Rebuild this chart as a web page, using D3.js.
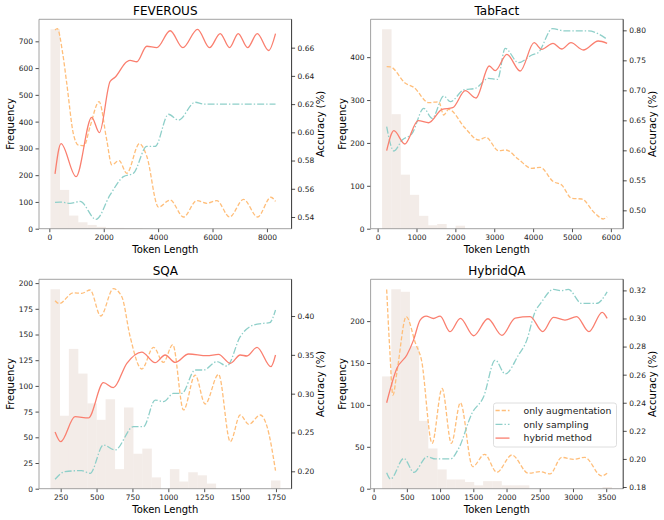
<!DOCTYPE html>
<html>
<head>
<meta charset="utf-8">
<script src="https://cdn.jsdelivr.net/npm/d3@7"></script>
<style>
	body { margin: 0; background: #fff; }
	svg { display: block; font-family: 'DejaVu Sans', sans-serif; }
</style>
</head>
<body>
<svg id="chart" width="664" height="520"></svg>
<script>

// Histogram counts (25 bins per dataset) and the token range the bins cover
var feverousCounts = [745, 145, 49, 24, 14, 7, 3, 3, 2, 2, 0, 0, 0, 0, 0, 0, 0, 0, 0, 0, 0, 0, 0, 0, 1];
var tabfactCounts = [465, 267, 126, 79, 30, 8, 11, 0, 7, 0, 0, 0, 0, 0, 0, 0, 0, 0, 0, 0, 0, 0, 0, 0, 1];
var sqaCounts = [194, 71, 136, 112, 83, 67, 87, 19, 79, 34, 39, 11, 0, 19, 7, 16, 13, 5, 0, 0, 0, 0, 0, 0, 8];
var hybridqaCounts = [134, 238, 235, 170, 81, 48, 23, 11, 11, 8, 4, 9, 9, 4, 4, 4, 0, 0, 0, 0, 0, 0, 0, 0, 2];

var feverousRange = [42, 8485];
var tabfactRange = [115, 6022];
var sqaRange = [179, 1779];
var hybridqaRange = [127, 3583];

// Accuracy curves: [token length, accuracy]
var feverousAug = [[209, 0.6725], [290, 0.6735], [491, 0.656], [638, 0.635], [883, 0.599], [1067, 0.591], [1276, 0.5905], [1497, 0.604], [1828, 0.6217], [2110, 0.5946], [2295, 0.577], [2564, 0.580], [2847, 0.571], [3313, 0.592], [3583, 0.583], [4012, 0.547], [4442, 0.552], [4933, 0.540], [5423, 0.5516], [5791, 0.5497], [6159, 0.5516], [6626, 0.540], [7141, 0.5525], [7657, 0.540], [8148, 0.554], [8316, 0.551]];
var feverousSamp = [[209, 0.5504], [390, 0.5506], [761, 0.5497], [1129, 0.551], [1718, 0.5383], [2233, 0.5556], [2724, 0.5686], [3092, 0.571], [3583, 0.590], [3890, 0.590], [4381, 0.6128], [4749, 0.6087], [5362, 0.6213], [5669, 0.620], [8316, 0.620]];
var feverousHybrid = [[209, 0.5705], [430, 0.592], [982, 0.5686], [1558, 0.6106], [1841, 0.5998], [2233, 0.636], [2417, 0.639], [2847, 0.650], [2970, 0.651], [3215, 0.650], [3583, 0.661], [3950, 0.660], [4442, 0.672], [4908, 0.660], [5448, 0.673], [5890, 0.660], [6282, 0.670], [6626, 0.660], [6945, 0.670], [7289, 0.660], [7645, 0.670], [8062, 0.658], [8316, 0.670]];

var tabfactAug = [[233, 0.7394], [330, 0.739], [718, 0.7117], [932, 0.705], [1316, 0.6794], [1573, 0.681], [1701, 0.6589], [1829, 0.6683], [2256, 0.6367], [2598, 0.6172], [2786, 0.6217], [3111, 0.5994], [3299, 0.6006], [3624, 0.585], [3966, 0.57], [4180, 0.5717], [4521, 0.5478], [4735, 0.5422], [4991, 0.52], [5248, 0.5189], [5590, 0.495], [5803, 0.4856], [5904, 0.4894]];
var tabfactSamp = [[233, 0.6394], [419, 0.5989], [632, 0.6172], [889, 0.6283], [1188, 0.67], [1402, 0.6533], [1701, 0.6906], [1872, 0.6811], [2214, 0.7006], [2513, 0.7033], [2855, 0.72], [3085, 0.7183], [3282, 0.77], [3624, 0.7461], [3966, 0.7589], [4137, 0.7633], [4496, 0.8028], [4820, 0.799], [5419, 0.799], [5904, 0.785]];
var tabfactHybrid = [[233, 0.5994], [419, 0.6328], [701, 0.6106], [1043, 0.6494], [1316, 0.646], [1658, 0.6683], [1932, 0.671], [2256, 0.6994], [2530, 0.6872], [2872, 0.7406], [3026, 0.7328], [3325, 0.76], [3667, 0.7322], [4026, 0.7794], [4222, 0.7683], [4513, 0.7783], [4735, 0.7689], [4974, 0.7794], [5291, 0.7672], [5675, 0.7822], [5904, 0.7783]];

var sqaAug = [[211, 0.4197], [240, 0.416], [338, 0.43], [397, 0.4292], [455, 0.4335], [529, 0.40], [617, 0.4352], [676, 0.4249], [734, 0.3734], [815, 0.3318], [897, 0.3597], [966, 0.3403], [1031, 0.3631], [1106, 0.279], [1187, 0.324], [1257, 0.2867], [1350, 0.3249], [1432, 0.2382], [1501, 0.2725], [1560, 0.2605], [1641, 0.2725], [1688, 0.2575], [1747, 0.2009]];
var sqaSamp = [[211, 0.1897], [280, 0.1996], [397, 0.2009], [455, 0.1974], [548, 0.2339], [629, 0.2275], [757, 0.2575], [827, 0.2575], [908, 0.2918], [966, 0.2897], [1036, 0.3004], [1094, 0.3004], [1187, 0.3305], [1246, 0.3305], [1339, 0.3412], [1408, 0.3356], [1501, 0.3734], [1594, 0.3884], [1664, 0.3906], [1706, 0.3914], [1747, 0.4077]];
var sqaHybrid = [[211, 0.2506], [250, 0.2382], [350, 0.2704], [443, 0.2687], [548, 0.3142], [617, 0.3077], [711, 0.3391], [815, 0.3536], [908, 0.3399], [978, 0.3498], [1048, 0.3403], [1141, 0.3511], [1269, 0.3489], [1350, 0.3506], [1432, 0.3391], [1501, 0.3498], [1548, 0.3485], [1618, 0.3597], [1715, 0.3348], [1747, 0.3498]];

var hybridqaAug = [[196, 0.3207], [240, 0.28], [290, 0.2455], [355, 0.2633], [490, 0.3013], [630, 0.2823], [720, 0.2704], [880, 0.2111], [1030, 0.2502], [1170, 0.2111], [1305, 0.24], [1490, 0.1945], [1670, 0.2033], [1855, 0.1905], [2080, 0.2028], [2330, 0.1898], [2505, 0.1909], [2655, 0.1893], [2830, 0.2011], [3005, 0.1997], [3180, 0.2011], [3430, 0.1879], [3514, 0.1898]];
var hybridqaSamp = [[196, 0.1902], [255, 0.1857], [455, 0.2004], [605, 0.1905], [805, 0.2016], [930, 0.2], [1155, 0.2], [1280, 0.2075], [1480, 0.2325], [1655, 0.2443], [1830, 0.2704], [1980, 0.2605], [2180, 0.274], [2305, 0.2846], [2420, 0.3036], [2530, 0.3119], [2705, 0.3207], [2830, 0.3198], [2930, 0.3207], [3130, 0.3107], [3355, 0.3107], [3514, 0.319]];
var hybridqaHybrid = [[196, 0.24], [350, 0.2645], [500, 0.274], [600, 0.2846], [700, 0.2989], [790, 0.3017], [900, 0.300], [1000, 0.3017], [1150, 0.2906], [1305, 0.3001], [1505, 0.2877], [1720, 0.2998], [1930, 0.288], [2130, 0.3003], [2355, 0.3013], [2545, 0.2906], [2705, 0.3008], [2880, 0.2989], [3055, 0.3013], [3240, 0.2906], [3440, 0.3043], [3514, 0.3001]];

// Tick values
var feverousXTicks = [0, 2000, 4000, 6000, 8000];
var tabfactXTicks = [0, 1000, 2000, 3000, 4000, 5000, 6000];
var sqaXTicks = [250, 500, 750, 1000, 1250, 1500, 1750];
var hybridqaXTicks = [0, 500, 1000, 1500, 2000, 2500, 3000, 3500];

var feverousFreqTicks = [0, 100, 200, 300, 400, 500, 600, 700];
var tabfactFreqTicks = [0, 100, 200, 300, 400];
var sqaFreqTicks = [0, 25, 50, 75, 100, 125, 150, 175, 200];
var hybridqaFreqTicks = [0, 50, 100, 150, 200];

var feverousAccTicks = [0.54, 0.56, 0.58, 0.60, 0.62, 0.64, 0.66];
var tabfactAccTicks = [0.50, 0.55, 0.60, 0.65, 0.70, 0.75, 0.80];
var sqaAccTicks = [0.20, 0.25, 0.30, 0.35, 0.40];
var hybridqaAccTicks = [0.18, 0.20, 0.22, 0.24, 0.26, 0.28, 0.30, 0.32];

// Accuracy axis limits
var feverousAccRange = [0.5317, 0.6801];
var tabfactAccRange = [0.4694, 0.8184];
var sqaAccRange = [0.1776, 0.4473];
var hybridqaAccRange = [0.1788, 0.3279];

var seriesNames = ['only augmentation', 'only sampling', 'hybrid method'];

// Styles
var lineColors = ['#FFBE7A', '#8ECFC9', '#FA7F6F'];
var lineDash = ['4.2,2', '7,2,1.4,2', null];
var barColor = '#F3ECE8';
var W = 252.6, H = 209.4;

var panels = [
	{name: 'FEVEROUS', counts: feverousCounts, range: feverousRange, lines: [feverousAug, feverousSamp, feverousHybrid],
	 xTicks: feverousXTicks, fTicks: feverousFreqTicks, aTicks: feverousAccTicks, acc: feverousAccRange, left: 39, top: 19.3},
	{name: 'TabFact', counts: tabfactCounts, range: tabfactRange, lines: [tabfactAug, tabfactSamp, tabfactHybrid],
	 xTicks: tabfactXTicks, fTicks: tabfactFreqTicks, aTicks: tabfactAccTicks, acc: tabfactAccRange, left: 370.6, top: 19.3},
	{name: 'SQA', counts: sqaCounts, range: sqaRange, lines: [sqaAug, sqaSamp, sqaHybrid],
	 xTicks: sqaXTicks, fTicks: sqaFreqTicks, aTicks: sqaAccTicks, acc: sqaAccRange, left: 39, top: 279.3},
	{name: 'HybridQA', counts: hybridqaCounts, range: hybridqaRange, lines: [hybridqaAug, hybridqaSamp, hybridqaHybrid],
	 xTicks: hybridqaXTicks, fTicks: hybridqaFreqTicks, aTicks: hybridqaAccTicks, acc: hybridqaAccRange, left: 370.6, top: 279.3, legend: true}
];

var svg = d3.select('#chart');

panels.forEach(function(p) {

	var g = svg.append('g')
		.attr('transform', 'translate(' + p.left + ',' + p.top + ')');

	// x domain with 5% margins around the histogram range
	var span = p.range[1] - p.range[0];
	var xScale = d3.scaleLinear()
		.domain([p.range[0] - 0.05 * span, p.range[1] + 0.05 * span])
		.range([0, W]);

	var yFreq = d3.scaleLinear()
		.domain([0, d3.max(p.counts) * 1.05])
		.range([H, 0]);

	var yAcc = d3.scaleLinear()
		.domain(p.acc)
		.range([H, 0]);

	// Histogram bars
	var binWidth = span / p.counts.length;
	g.selectAll('.bar')
		.data(p.counts)
		.enter()
		.append('rect')
		.attr('class', 'bar')
		.attr('x', function(d, i) { return xScale(p.range[0] + i * binWidth); })
		.attr('width', function(d, i) {
			return xScale(p.range[0] + (i + 1) * binWidth) - xScale(p.range[0] + i * binWidth) + 0.3;
		})
		.attr('y', function(d) { return yFreq(d); })
		.attr('height', function(d) { return H - yFreq(d); })
		.attr('fill', barColor);

	// Accuracy lines
	var line = d3.line()
		.x(function(d) { return xScale(d[0]); })
		.y(function(d) { return yAcc(d[1]); })
		.curve(d3.curveMonotoneX);

	p.lines.forEach(function(series, k) {
		g.append('path')
			.attr('d', line(series))
			.attr('fill', 'none')
			.attr('stroke', lineColors[k])
			.attr('stroke-width', 1.3)
			.attr('stroke-dasharray', lineDash[k]);
	});

	// Axes
	var xAxis = d3.axisBottom(xScale).tickValues(p.xTicks).tickFormat(d3.format('d')).tickSize(3.5).tickPadding(2.3).tickSizeOuter(0);
	var lAxis = d3.axisLeft(yFreq).tickValues(p.fTicks).tickFormat(d3.format('d')).tickSize(3.5).tickPadding(2.5).tickSizeOuter(0);
	var rAxis = d3.axisRight(yAcc).tickValues(p.aTicks).tickFormat(d3.format('.2f')).tickSize(3.5).tickPadding(2.5).tickSizeOuter(0);

	var axes = [
		g.append('g').attr('transform', 'translate(0,' + H + ')').call(xAxis),
		g.append('g').call(lAxis),
		g.append('g').attr('transform', 'translate(' + W + ',0)').call(rAxis)
	];
	axes.forEach(function(a) {
		a.attr('font-size', 7.5).attr('font-family', 'DejaVu Sans, sans-serif');
		a.select('.domain').remove();
		a.selectAll('line').attr('stroke', '#222').attr('stroke-width', 0.8);
		a.selectAll('text').attr('fill', '#222');
	});

	// Spines
	g.append('path')
		.attr('d', 'M' + W + ',0H0V' + H + 'H' + W)
		.attr('fill', 'none')
		.attr('stroke', '#8a8a8a')
		.attr('stroke-width', 0.8);
	g.append('line')
		.attr('x1', W).attr('x2', W)
		.attr('y1', 0).attr('y2', H)
		.attr('stroke', '#000')
		.attr('stroke-width', 0.8);

	// Title and labels
	g.append('text')
		.attr('x', W / 2)
		.attr('y', -4.3)
		.attr('text-anchor', 'middle')
		.attr('font-size', 12)
		.text(p.name);

	g.append('text')
		.attr('x', W / 2)
		.attr('y', H + 24.6)
		.attr('text-anchor', 'middle')
		.attr('font-size', 10)
		.text('Token Length');

	g.append('text')
		.attr('transform', 'translate(-25,' + (H / 2) + ')rotate(-90)')
		.attr('text-anchor', 'middle')
		.attr('font-size', 10)
		.text('Frequency');

	g.append('text')
		.attr('transform', 'translate(' + (W + 32.7) + ',' + (H / 2) + ')rotate(-90)')
		.attr('text-anchor', 'middle')
		.attr('font-size', 10)
		.text('Accuracy (%)');

	// Legend
	if (p.legend) {
		var lg = g.append('g')
			.attr('transform', 'translate(' + (W - 6.7 - 123) + ',' + (H - 41.7 - 44) + ')');

		lg.append('rect')
			.attr('width', 123)
			.attr('height', 44)
			.attr('rx', 2.5)
			.attr('fill', '#fff')
			.attr('fill-opacity', 0.8)
			.attr('stroke', '#d6d6d6')
			.attr('stroke-width', 0.8);

		seriesNames.forEach(function(name, k) {
			var cy = 7.5 + k * 13.8;
			lg.append('line')
				.attr('x1', 2).attr('x2', 16)
				.attr('y1', cy).attr('y2', cy)
				.attr('stroke', lineColors[k])
				.attr('stroke-width', 1.3)
				.attr('stroke-dasharray', lineDash[k]);
			lg.append('text')
				.attr('x', 30)
				.attr('y', cy)
				.attr('dy', '0.35em')
				.attr('font-size', 9.3)
				.attr('fill', '#222')
				.text(name);
		});
	}
});

</script>
</body>
</html>
